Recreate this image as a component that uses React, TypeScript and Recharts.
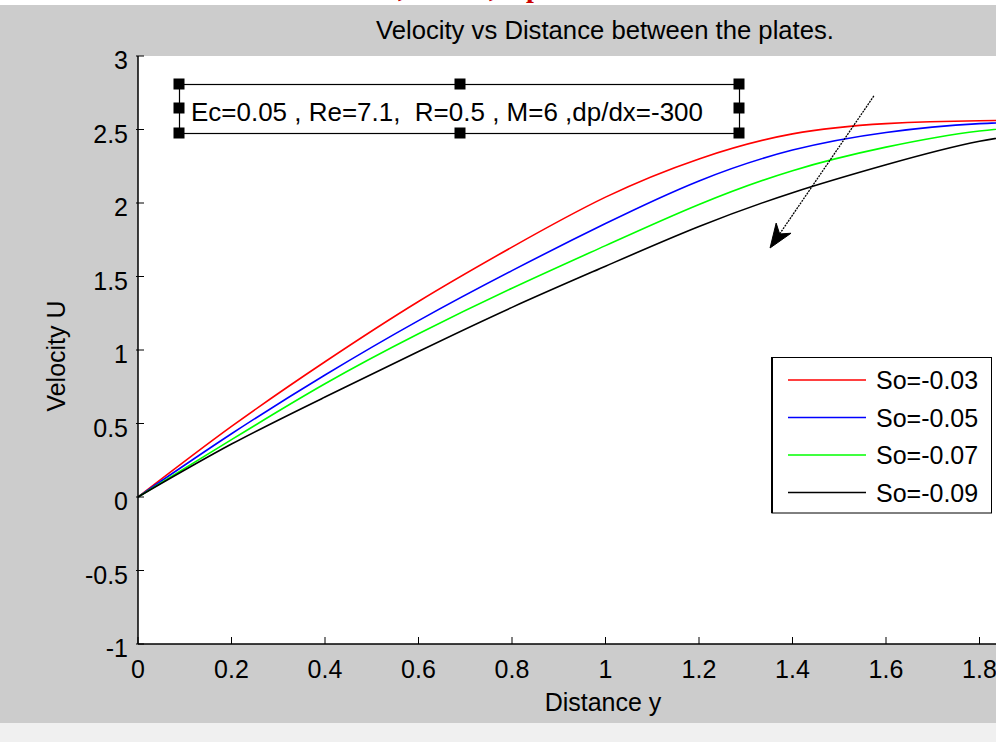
import React from 'react';
import { LineChart, Line, XAxis, YAxis, CartesianGrid, Legend, ReferenceLine } from 'recharts';

// ---- data ----
const distance = [0, 0.2, 0.4, 0.6, 0.8, 1.0, 1.2, 1.4, 1.6, 1.8, 2.0];
const uSo003 = [0, 0.48, 0.92, 1.33, 1.70, 2.04, 2.30, 2.47, 2.54, 2.56, 2.56];
const uSo005 = [0, 0.43, 0.83, 1.20, 1.54, 1.86, 2.15, 2.36, 2.48, 2.54, 2.56];
const uSo007 = [0, 0.39, 0.77, 1.11, 1.42, 1.71, 1.99, 2.22, 2.38, 2.49, 2.54];
const uSo009 = [0, 0.36, 0.68, 0.99, 1.29, 1.57, 1.84, 2.07, 2.26, 2.42, 2.51];

const seriesKeys = ['s1', 's2', 's3', 's4'];
const seriesNames = ['So=-0.03', 'So=-0.05', 'So=-0.07', 'So=-0.09'];
const seriesColors = ['#ff0000', '#0000ff', '#00ff00', '#000000'];
const seriesValues = [uSo003, uSo005, uSo007, uSo009];

const xTicks = [0, 0.2, 0.4, 0.6, 0.8, 1, 1.2, 1.4, 1.6, 1.8, 2];
const yTicks = [-1, -0.5, 0, 0.5, 1, 1.5, 2, 2.5, 3];

const titleText = 'Velocity vs Distance between the plates.';
const xLabel = 'Distance y';
const yLabel = 'Velocity U';
const annotationText = 'Ec=0.05 , Re=7.1,  R=0.5 , M=6 ,dp/dx=-300';
const arrowFrom = { x: 1.574, y: 2.728 };
const arrowTo = { x: 1.352, y: 1.694 };

const data = distance.map((d, i) => {
  const row: any = { d };
  seriesKeys.forEach((k, j) => (row[k] = seriesValues[j][i]));
  return row;
});

const FONT = "'Liberation Sans', Arial, Helvetica, sans-serif";
const FS = 25;

const XTick = (props: any) => {
  const { x, y, payload } = props;
  return (
    <g>
      <line x1={x} y1={y} x2={x} y2={y - 7} stroke="#000" strokeWidth={1} />
      <text x={x} y={y + 34} textAnchor="middle" fontFamily={FONT} fontSize={FS} fill="#000">
        {String(payload.value)}
      </text>
    </g>
  );
};

const YTick = (props: any) => {
  const { x, y, payload } = props;
  return (
    <g>
      <line x1={x - 2} y1={y} x2={x + 6} y2={y} stroke="#000" strokeWidth={1} />
      <text x={x - 10} y={y + 13} textAnchor="end" fontFamily={FONT} fontSize={FS} fill="#000">
        {String(payload.value)}
      </text>
    </g>
  );
};

const ArrowShape = (props: any) => {
  const { x1, y1, x2, y2 } = props;
  const dx = x2 - x1;
  const dy = y2 - y1;
  const len = Math.sqrt(dx * dx + dy * dy) || 1;
  const ux = dx / len;
  const uy = dy / len;
  const nx = -uy;
  const ny = ux;
  const L = 24;
  const W = 9;
  const notch = 17;
  const bx = x2 - ux * L;
  const by = y2 - uy * L;
  const mx = x2 - ux * notch;
  const my = y2 - uy * notch;
  const pts = `${x2},${y2} ${bx + nx * W},${by + ny * W} ${mx},${my} ${bx - nx * W},${by - ny * W}`;
  return (
    <g>
      <line x1={x1} y1={y1} x2={mx} y2={my} stroke="#000" strokeWidth={1.3} strokeDasharray="2 1" />
      <polygon points={pts} fill="#000" stroke="#000" strokeWidth={1} />
    </g>
  );
};

const LegendBox = (props: any) => {
  const payload = props.payload || [];
  return (
    <svg width={221} height={157} style={{ display: 'block' }}>
      <rect x={1} y={0.5} width={219.5} height={155.5} fill="#fff" stroke="#000" strokeWidth={1} />
      <line x1={1} y1={0} x2={1} y2={156} stroke="#000" strokeWidth={2} />
      {payload.map((e: any, i: number) => {
        const cy = 23 + i * 37.5;
        return (
          <g key={i}>
            <line x1={17} y1={cy} x2={95} y2={cy} stroke={e.color} strokeWidth={1.5} />
            <text x={105} y={cy + 9} fontFamily={FONT} fontSize={FS} fill="#000">
              {e.value}
            </text>
          </g>
        );
      })}
    </svg>
  );
};

const handles = [
  [179, 84], [460, 84], [739, 84],
  [179, 108], [739, 108],
  [179, 133], [460, 133], [739, 133],
];

const redFont = "'Liberation Serif', serif";

export default function App() {
  return (
    <div style={{ position: 'fixed', left: 0, top: 0, width: 996, height: 742, overflow: 'hidden', background: '#f0f0f0' }}>
      <div style={{ position: 'absolute', left: 0, top: 0, width: 996, height: 5, background: '#ffffff', overflow: 'hidden' }}>
        <svg width={996} height={5} style={{ display: 'block' }}>
          <text x={398} y={-3} fontFamily={redFont} fontWeight="bold" fontSize={28} fill="#cc0000">,</text>
          <text x={489} y={-3} fontFamily={redFont} fontWeight="bold" fontSize={28} fill="#cc0000">,</text>
          <text x={526} y={-3} fontFamily={redFont} fontWeight="bold" fontSize={28} fill="#cc0000">p</text>
        </svg>
      </div>
      <div style={{ position: 'absolute', left: 0, top: 5, width: 996, height: 718, background: '#cccccc' }} />
      <div style={{ position: 'absolute', left: 0, top: 0 }}>
        <LineChart width={1100} height={723} data={data} margin={{ top: 56, right: 27, left: 0, bottom: 0 }}>
          <CartesianGrid fill="#ffffff" horizontal={false} vertical={false} stroke="none" />
          <XAxis
            dataKey="d"
            type="number"
            domain={[0, 2]}
            ticks={xTicks}
            interval={0}
            height={79}
            tickSize={0}
            tickMargin={0}
            tickLine={false}
            axisLine={{ stroke: '#000', strokeWidth: 1.5 }}
            tick={XTick}
            allowDataOverflow
          />
          <YAxis
            type="number"
            domain={[-1, 3]}
            ticks={yTicks}
            interval={0}
            width={138}
            tickSize={0}
            tickMargin={0}
            tickLine={false}
            axisLine={{ stroke: '#000', strokeWidth: 1.5 }}
            tick={YTick}
            allowDataOverflow
          />
          {seriesKeys.map((k, i) => (
            <Line
              key={k}
              type="natural"
              dataKey={k}
              name={seriesNames[i]}
              stroke={seriesColors[i]}
              strokeWidth={1.6}
              dot={false}
              activeDot={false}
              isAnimationActive={false}
            />
          ))}
          <ReferenceLine segment={[arrowFrom, arrowTo]} shape={ArrowShape} ifOverflow="visible" />
          <Legend
            layout="vertical"
            align="center"
            verticalAlign="middle"
            width={221}
            height={157}
            wrapperStyle={{ left: 771, top: 357, width: 221, height: 157 }}
            content={LegendBox}
          />
        </LineChart>
      </div>
      <svg width={996} height={742} style={{ position: 'absolute', left: 0, top: 0, pointerEvents: 'none' }}>
        <text x={605} y={39} textAnchor="middle" fontFamily={FONT} fontSize={FS} fill="#000" textLength={458} lengthAdjust="spacingAndGlyphs">{titleText}</text>
        <text x={603} y={711} textAnchor="middle" fontFamily={FONT} fontSize={FS} fill="#000">{xLabel}</text>
        <text x={65} y={356} textAnchor="middle" fontFamily={FONT} fontSize={FS} fill="#000" transform="rotate(-90 65 356)">{yLabel}</text>
        <rect x={179.5} y={84.5} width={560} height={49} fill="#ffffff" stroke="#000" strokeWidth={1.2} />
        <text x={191} y={121} fontFamily={FONT} fontSize={FS} fill="#000" style={{ whiteSpace: 'pre' }} textLength={512} lengthAdjust="spacingAndGlyphs">{annotationText}</text>
        {handles.map(([hx, hy], i) => (
          <rect key={i} x={hx - 5.5} y={hy - 5.5} width={11} height={11} fill="#000" />
        ))}
      </svg>
    </div>
  );
}
